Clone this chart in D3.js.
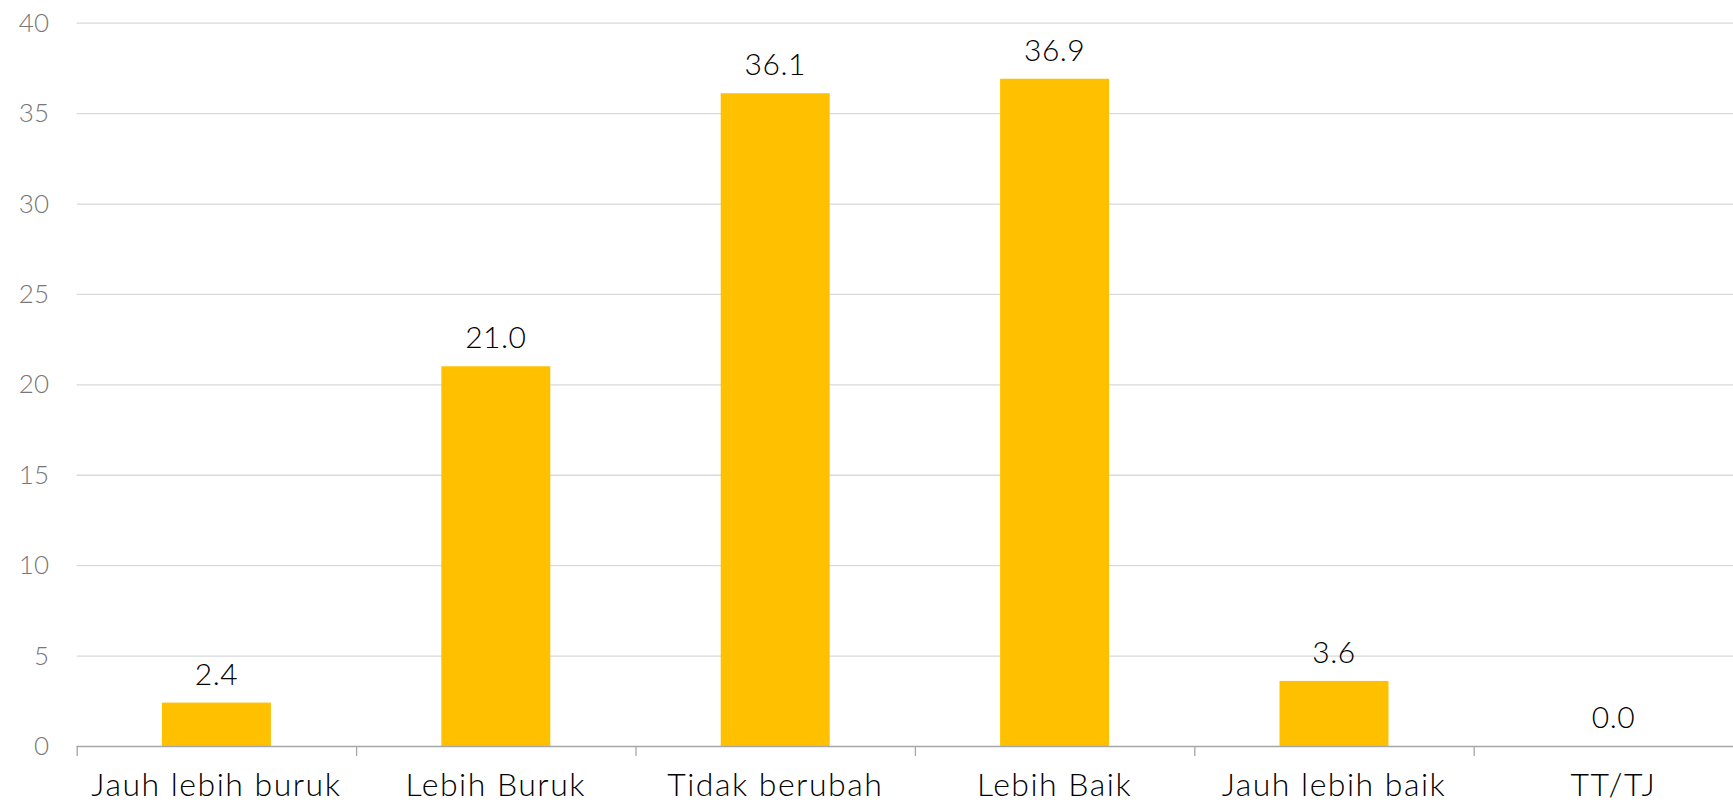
<!DOCTYPE html>
<html><head><meta charset="utf-8">
<script src="https://cdn.jsdelivr.net/npm/d3@7"></script>
<style>body{margin:0;background:#fff;overflow:hidden}</style>
</head><body><svg id="c" width="1733" height="803"></svg>
<script>
const categories = ["Jauh lebih buruk","Lebih Buruk","Tidak berubah","Lebih Baik","Jauh lebih baik","TT/TJ"];
const values = [2.4, 21.0, 36.1, 36.9, 3.6, 0.0];
const yTicks = [0,5,10,15,20,25,30,35,40];

(function(){
const svg = d3.select("#c");
const left = 76.7, bandW = 279.4, plotTop = 22.7, base = 746;
const x = d3.scaleBand().domain(categories).range([left, left + bandW*categories.length]).paddingInner(0.61).paddingOuter(0.305);
const xb = d3.scaleBand().domain(categories).range([left, left + bandW*categories.length]);
const y = d3.scaleLinear().domain([0,40]).range([base, plotTop]);
const font = "Lato, 'Noto Sans', sans-serif";

svg.append("g").selectAll("line").data(yTicks.filter(d=>d>0)).join("line")
  .attr("x1", left).attr("x2", 1733).attr("y1", d=>y(d)+0.5).attr("y2", d=>y(d)+0.5)
  .attr("stroke", "#d9d9d9").attr("stroke-width", 1.3);

svg.append("g").selectAll("text").data(yTicks).join("text")
  .attr("x", 49).attr("y", d=>y(d)+9).attr("text-anchor","end")
  .attr("font-family", font).attr("font-weight", 300).attr("font-size", 26).attr("fill", "#777").text(d=>d);

svg.append("g").selectAll("rect").data(values).join("rect")
  .attr("x", (d,i)=>x(categories[i])).attr("width", x.bandwidth())
  .attr("y", d=>y(d)).attr("height", d=>base - y(d)).attr("fill", "#FFC000");

svg.append("line").attr("x1", left).attr("x2", 1733).attr("y1", base+0.5).attr("y2", base+0.5)
  .attr("stroke", "#a6a6a6").attr("stroke-width", 1.3);
svg.append("g").selectAll("line").data(categories).join("line")
  .attr("x1", d=>xb(d)+0.5).attr("x2", d=>xb(d)+0.5).attr("y1", base).attr("y2", base+10)
  .attr("stroke", "#a6a6a6").attr("stroke-width", 1.3);

svg.append("g").selectAll("text").data(values).join("text")
  .attr("x", (d,i)=>xb(categories[i]) + xb.bandwidth()/2).attr("y", d=>y(d)-18)
  .attr("text-anchor","middle").attr("font-family", font).attr("font-weight", 300).attr("font-size", 30)
  .attr("letter-spacing", 0.5).attr("fill", "#000")
  .text(d=>d.toFixed(1));

svg.append("g").selectAll("text").data(categories).join("text")
  .attr("x", d=>xb(d) + xb.bandwidth()/2).attr("y", 796)
  .attr("text-anchor","middle").attr("font-family", font).attr("font-weight", 300).attr("font-size", 32)
  .attr("letter-spacing", 1.5).attr("fill", "#000")
  .text(d=>d);
})();
</script></body></html>
